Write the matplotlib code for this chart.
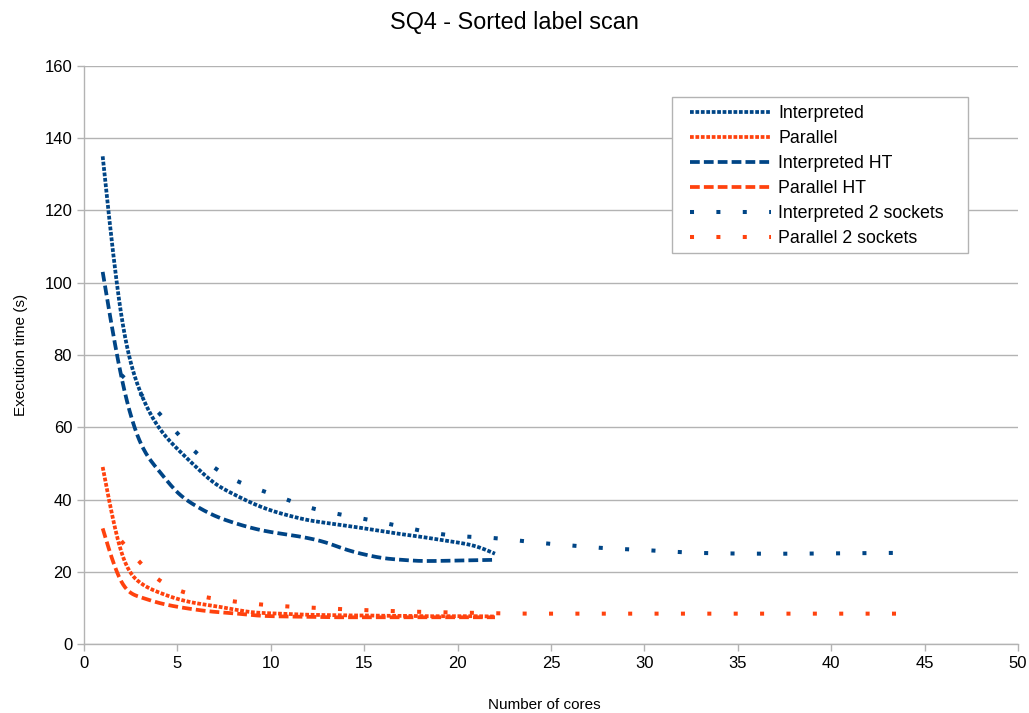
import numpy as np
import matplotlib
matplotlib.use("Agg")
import matplotlib.pyplot as plt
from matplotlib.patches import Rectangle

# Core counts
cores_1s = list(range(1, 23))
cores_2s = list(range(2, 45, 2))

# Execution times (s), one socket
interpreted = [135, 91, 70, 60, 54, 49, 44.5, 41.5, 39, 37, 35.5, 34.3,
               33.5, 32.8, 32, 31.2, 30.4, 29.7, 28.9, 28.1, 27, 25]
parallel = [49, 25.5, 17, 14.3, 12.5, 11.3, 10.5, 9.6, 8.8, 8.5, 8.3, 8.1,
            8.0, 7.9, 7.9, 7.8, 7.8, 7.7, 7.7, 7.7, 7.7, 7.6]
interpreted_ht = [103, 74, 56, 48, 42, 38.2, 35.5, 33.6, 32.1, 31.0, 30.2, 29.3,
                  28.0, 26.2, 24.8, 23.8, 23.3, 23.0, 23.0, 23.1, 23.2, 23.3]
parallel_ht = [32, 17.3, 13, 11.4, 10.3, 9.5, 8.9, 8.5, 8.0, 7.7, 7.6, 7.5,
               7.4, 7.4, 7.4, 7.4, 7.4, 7.4, 7.4, 7.4, 7.4, 7.4]

# Execution times (s), two sockets
interpreted_2s = [74.5, 64, 53, 45.6, 41.6, 37.9, 35.6, 33.6, 31.4, 29.9, 29.3,
                  28.2, 27.3, 26.5, 26.0, 25.4, 25.1, 25.0, 25.0, 25.1, 25.2, 25.2]
parallel_2s = [28.5, 17.8, 13.5, 11.8, 10.7, 10.1, 9.6, 9.2, 8.9, 8.7, 8.5,
               8.4, 8.4, 8.4, 8.4, 8.4, 8.4, 8.4, 8.4, 8.4, 8.4, 8.4]

x_ticks = list(range(0, 51, 5))
y_ticks = list(range(0, 161, 20))


def natural_spline(x, y, n=600):
    """Natural cubic spline through (x, y), sampled densely."""
    x = np.asarray(x, float)
    y = np.asarray(y, float)
    m = len(x)
    h = np.diff(x)
    A = np.zeros((m, m))
    b = np.zeros(m)
    A[0, 0] = A[-1, -1] = 1.0
    for i in range(1, m - 1):
        A[i, i - 1] = h[i - 1]
        A[i, i] = 2 * (h[i - 1] + h[i])
        A[i, i + 1] = h[i]
        b[i] = 6 * ((y[i + 1] - y[i]) / h[i] - (y[i] - y[i - 1]) / h[i - 1])
    M = np.linalg.solve(A, b)
    xs = np.linspace(x[0], x[-1], n)
    idx = np.clip(np.searchsorted(x, xs) - 1, 0, m - 2)
    x0, x1 = x[idx], x[idx + 1]
    hh = x1 - x0
    t0 = x1 - xs
    t1 = xs - x0
    ys = (M[idx] * t0 ** 3 + M[idx + 1] * t1 ** 3) / (6 * hh) \
        + (y[idx] / hh - M[idx] * hh / 6) * t0 \
        + (y[idx + 1] / hh - M[idx + 1] * hh / 6) * t1
    return xs, ys


BLUE = "#004586"
ORANGE = "#ff420e"
GRID = "#b3b3b3"

plt.rcParams["font.family"] = ["Liberation Sans", "DejaVu Sans"]

W, H = 1029, 713
fig = plt.figure(figsize=(W / 100, H / 100), dpi=100)
ax = fig.add_axes([84 / W, 69 / H, 934 / W, 578 / H])

dotted = (0, (1, 0.45))
dashed = (0, (2.6, 1.1))
sparse = (0, (1, 5.55))

series = [
    (cores_1s, interpreted, BLUE, dotted, 2.7, "Interpreted"),
    (cores_1s, parallel, ORANGE, dotted, 2.7, "Parallel"),
    (cores_1s, interpreted_ht, BLUE, dashed, 2.7, "Interpreted HT"),
    (cores_1s, parallel_ht, ORANGE, dashed, 2.7, "Parallel HT"),
    (cores_2s, interpreted_2s, BLUE, sparse, 2.9, "Interpreted 2 sockets"),
    (cores_2s, parallel_2s, ORANGE, sparse, 2.9, "Parallel 2 sockets"),
]
for xs, ys, color, ls, lw, label in series:
    sx, sy = natural_spline(xs, ys)
    ax.plot(sx, sy, color=color, linestyle=ls, linewidth=lw, label=label,
            dash_capstyle="butt")

ax.set_xlim(0, 50)
ax.set_ylim(0, 160)
ax.set_xticks(x_ticks)
ax.set_yticks(y_ticks)
ax.tick_params(axis="both", colors=GRID, labelcolor="black", labelsize=12,
               length=5, width=1, direction="out")
ax.grid(axis="y", color=GRID, linewidth=1)
ax.set_axisbelow(True)
for side in ("top", "right"):
    ax.spines[side].set_visible(False)
for side in ("left", "bottom"):
    ax.spines[side].set_color(GRID)
    ax.spines[side].set_linewidth(1)

ax.set_xlabel("Number of cores", fontsize=11)
ax.xaxis.set_label_coords(0.493, -0.094)
ax.set_ylabel("Execution time (s)", fontsize=11, labelpad=12)
fig.suptitle("SQ4 - Sorted label scan", fontsize=16.8, y=0.985)

# Legend entries without their own frame; the box is drawn separately
leg = fig.legend(loc="upper left", bbox_to_anchor=(690 / W, 1 - 105 / H),
                 fontsize=12.8, handlelength=4.55, handletextpad=0.4,
                 labelspacing=0.45, borderpad=0, borderaxespad=0,
                 frameon=False)
fig.add_artist(Rectangle((672 / W, 1 - 253 / H), 296 / W, 156 / H,
                         transform=fig.transFigure, fill=True,
                         facecolor="white", edgecolor=GRID, linewidth=1,
                         zorder=leg.get_zorder() - 1))

fig.savefig("out.png", dpi=100)
